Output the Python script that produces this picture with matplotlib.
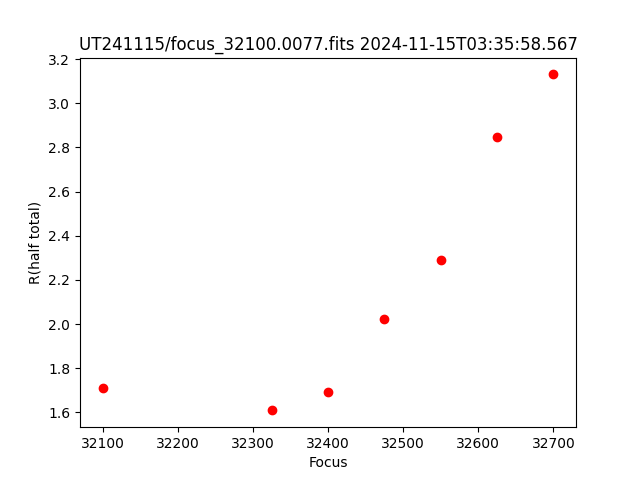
import matplotlib
matplotlib.use("Agg")
import matplotlib.pyplot as plt

focus = [32100, 32325, 32400, 32475, 32550, 32625, 32700]
r_half = [1.709, 1.609, 1.691, 2.022, 2.289, 2.846, 3.131]

fig, ax = plt.subplots(figsize=(6.4, 4.8), dpi=100)
ax.plot(focus, r_half, 'o', color='red')
ax.set_xlabel("Focus")
ax.set_ylabel("R(half total)")
ax.set_title("UT241115/focus_32100.0077.fits 2024-11-15T03:35:58.567")
fig.savefig("out.png")
